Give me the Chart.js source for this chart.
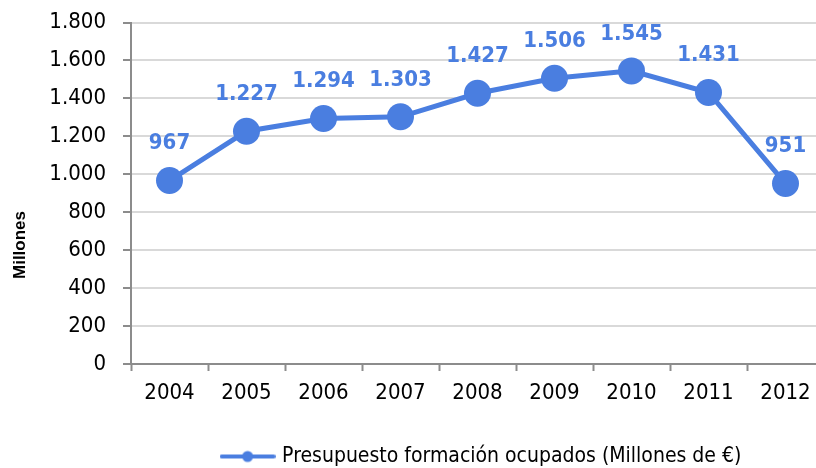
<!DOCTYPE html>
<html>
<head>
<meta charset="utf-8">
<script src="https://cdn.jsdelivr.net/npm/chart.js@4/dist/chart.umd.min.js"></script>
<style>
  html, body { margin: 0; padding: 0; background: #fff; overflow: hidden; }
  #wrap { width: 826px; height: 468px; }
</style>
</head>
<body>
<div id="wrap"><canvas id="budgetChart"></canvas></div>
<script>
// Chart data
const years = ['2004', '2005', '2006', '2007', '2008', '2009', '2010', '2011', '2012'];
const budget = [967, 1227, 1294, 1303, 1427, 1506, 1545, 1431, 951];
const seriesLabel = 'Presupuesto formación ocupados (Millones de €)';
const axisTitle = 'Millones';

const lineColor = '#4a7ee0';
const fontFamily = "'DejaVu Sans Condensed', 'DejaVu Sans', sans-serif";

// Spanish style thousands separator (1.227)
function formatNumber(v) {
    return String(v).replace(/\B(?=(\d{3})+(?!\d))/g, '.');
}

// Small line + dot image used as the legend marker
function legendMarker() {
    const c = document.createElement('canvas');
    c.width = 56;
    c.height = 14;
    const g = c.getContext('2d');
    g.strokeStyle = lineColor;
    g.lineWidth = 4;
    g.lineCap = 'round';
    g.beginPath();
    g.moveTo(2, 7);
    g.lineTo(54, 7);
    g.stroke();
    g.fillStyle = lineColor;
    g.beginPath();
    g.arc(28, 7, 5.5, 0, Math.PI * 2);
    g.fill();
    return c;
}

// Draws the value above each point
const valueLabels = {
    id: 'valueLabels',
    afterDatasetsDraw(chart) {
        const ctx = chart.ctx;
        const meta = chart.getDatasetMeta(0);
        ctx.save();
        ctx.font = "bold 22px " + fontFamily;
        ctx.fillStyle = lineColor;
        ctx.textAlign = 'center';
        ctx.textBaseline = 'middle';
        meta.data.forEach((pt, i) => {
            ctx.fillText(formatNumber(chart.data.datasets[0].data[i]), pt.x, pt.y - 37);
        });
        ctx.restore();
    }
};

// Y axis title, placed lower than the axis middle like the original
const yTitle = {
    id: 'yTitle',
    afterDraw(chart) {
        const ctx = chart.ctx;
        ctx.save();
        ctx.translate(20, 245);
        ctx.rotate(-Math.PI / 2);
        ctx.font = "bold 17px 'Liberation Sans', Arial, sans-serif";
        ctx.fillStyle = '#000';
        ctx.textAlign = 'center';
        ctx.textBaseline = 'middle';
        ctx.fillText(axisTitle, 0, 0);
        ctx.restore();
    }
};

// Nudge the legend lower and a bit to the right
const legendShift = {
    id: 'legendShift',
    afterLayout(chart) {
        if (chart.legend) {
            chart.legend.top += 9;
            chart.legend.bottom += 9;
            chart.legend.left += 5;
            chart.legend.right += 5;
        }
    }
};

const marker = legendMarker();

new Chart(document.getElementById('budgetChart').getContext('2d'), {
    type: 'line',
    data: {
        labels: years,
        datasets: [{
            label: seriesLabel,
            data: budget,
            borderColor: lineColor,
            backgroundColor: lineColor,
            borderWidth: 5,
            pointRadius: 13.5,
            pointHoverRadius: 13.5,
            pointBackgroundColor: lineColor,
            pointBorderWidth: 0,
            tension: 0,
            fill: false
        }]
    },
    options: {
        responsive: true,
        maintainAspectRatio: false,
        animation: false,
        layout: {
            autoPadding: false,
            padding: { top: 18, right: 2, left: 0, bottom: 0 }
        },
        scales: {
            x: {
                type: 'category',
                offset: true,
                grid: {
                    offset: true,
                    drawOnChartArea: false,
                    drawTicks: true,
                    tickLength: 7,
                    tickColor: '#8c8c8c',
                    tickWidth: 2
                },
                border: { color: '#8c8c8c', width: 2 },
                ticks: {
                    color: '#000',
                    padding: 9,
                    font: { family: fontFamily, size: 22 }
                },
                afterFit(scale) { scale.height = 68; }
            },
            y: {
                min: 0,
                max: 1800,
                ticks: {
                    stepSize: 200,
                    color: '#000',
                    padding: 17,
                    font: { family: fontFamily, size: 22, lineHeight: 0.5 },
                    callback: v => formatNumber(v)
                },
                grid: {
                    color: '#d9d9d9',
                    lineWidth: 2,
                    tickLength: 8,
                    tickColor: '#8c8c8c',
                    tickWidth: 2
                },
                border: { color: '#8c8c8c', width: 2 },
                afterFit(scale) { scale.width = 131; }
            }
        },
        plugins: {
            legend: {
                position: 'bottom',
                fullSize: false,
                labels: {
                    usePointStyle: true,
                    pointStyleWidth: 48,
                    padding: 5,
                    color: '#000',
                    font: { family: fontFamily, size: 21 },
                    generateLabels: () => [{
                        text: seriesLabel,
                        pointStyle: marker,
                        fillStyle: lineColor,
                        strokeStyle: lineColor,
                        lineWidth: 0,
                        datasetIndex: 0
                    }]
                }
            },
            tooltip: { enabled: false }
        }
    },
    plugins: [valueLabels, yTitle, legendShift]
});
</script>
</body>
</html>
